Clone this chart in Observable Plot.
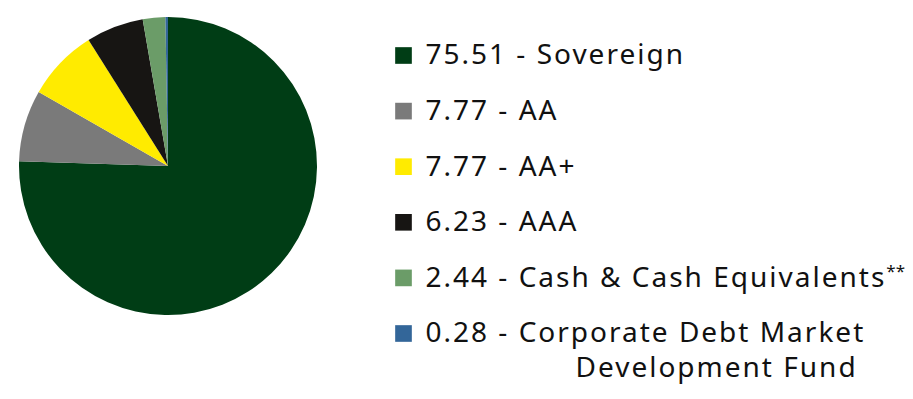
<!DOCTYPE html>
<html>
<head>
<meta charset="utf-8">
<script src="https://cdn.jsdelivr.net/npm/d3@7"></script>
<script src="https://cdn.jsdelivr.net/npm/@observablehq/plot@0.6"></script>
<style>
  html, body { margin: 0; padding: 0; background: #fff; }
  #chart { width: 913px; height: 399px; }
  #chart text { letter-spacing: 2px; }
</style>
</head>
<body>
<div id="chart"></div>
<script>
const categories = ["Sovereign", "AA", "AA+", "AAA", "Cash & Cash Equivalents", "Corporate Debt Market Development Fund"];
const values = [75.51, 7.77, 7.77, 6.23, 2.44, 0.28];
const valueLabels = ["75.51", "7.77", "7.77", "6.23", "2.44", "0.28"];
const colors = ["#003d15", "#7a7a7a", "#ffeb00", "#171513", "#6b9c68", "#336699"];

const data = categories.map((c, i) => ({category: c, value: values[i], label: valueLabels[i], i}));

const W = 913, H = 399;
const cx = 168, cy = 166, R = 149;
const legendX = 403, textX = 425, rowY0 = 55, rowStep = 55.6;

const legendText = d => {
  if (d.i === 4) return `${d.label} - Cash & Cash Equivalents**`;
  if (d.i === 5) return `${d.label} - Corporate Debt Market`;
  return `${d.label} - ${d.category}`;
};

function pieMark(index, scales) {
  const g = d3.create("svg:g");
  const arcs = d3.pie().sort(null).value(d => d.value)(data);
  const arc = d3.arc().innerRadius(0).outerRadius(R);
  g.attr("transform", `translate(${scales.x(cx)},${scales.y(cy)})`)
    .selectAll("path")
    .data(arcs)
    .join("path")
    .attr("d", arc)
    .attr("fill", d => scales.color(d.data.category));
  return g.node();
}

const plot = Plot.plot({
  width: W,
  height: H,
  margin: 0,
  x: {domain: [0, W], range: [0, W], axis: null},
  y: {domain: [0, H], range: [0, H], axis: null},
  color: {domain: categories, range: colors},
  style: {fontFamily: "'Noto Sans', sans-serif", background: "#fff"},
  marks: [
    pieMark,
    Plot.dot(data, {
      x: () => legendX,
      y: d => rowY0 + d.i * rowStep,
      symbol: "square",
      r: 9.4,
      fill: d => d.category,
      stroke: "none"
    }),
    Plot.text(data, {
      x: () => textX,
      y: d => rowY0 + d.i * rowStep,
      text: legendText,
      textAnchor: "start",
      lineAnchor: "middle",
      fontSize: 28,
      fill: "#111"
    }),
    Plot.text(["Development Fund"], {
      x: () => 575,
      y: () => rowY0 + 5 * rowStep + 35,
      text: d => d,
      textAnchor: "start",
      lineAnchor: "middle",
      fontSize: 28,
      fill: "#111"
    })
  ]
});

// Render the "**" as a raised, smaller suffix
d3.select(plot).selectAll("text").each(function() {
  const t = this.textContent;
  if (t.endsWith("**")) {
    const base = t.slice(0, -2);
    const sel = d3.select(this);
    sel.text(null);
    sel.append("tspan").text(base);
    sel.append("tspan").attr("font-size", 17).attr("dy", -10).style("letter-spacing", "0px").text("**");
  }
});

document.getElementById("chart").appendChild(plot);
</script>
</body>
</html>
